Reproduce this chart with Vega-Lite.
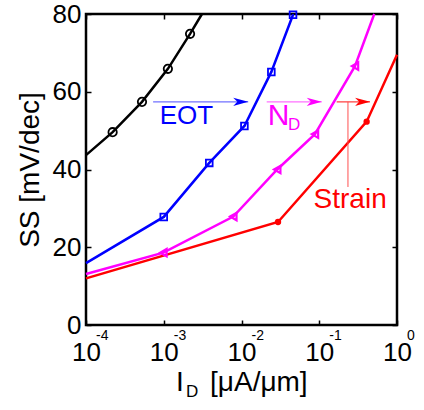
{
  "$schema": "https://vega.github.io/schema/vega-lite/v6.json",
  "width": 311,
  "height": 311,
  "autosize": {"type": "none"},
  "padding": {"left": 86, "top": 14, "right": 27, "bottom": 85},
  "background": "white",
  "config": {
    "font": "Liberation Sans",
    "view": {"stroke": "black", "strokeWidth": 2.5},
    "axis": {
      "domain": false,
      "grid": false,
      "tickColor": "black",
      "tickWidth": 1.5,
      "tickSize": -5,
      "labelColor": "black",
      "titleColor": "black",
      "labelFont": "Liberation Sans",
      "titleFont": "Liberation Sans",
      "titleFontWeight": "normal",
      "labelFontSize": 26,
      "titleFontSize": 28,
      "labelFlush": false
    }
  },
  "datasets": {
    "curves": [
      {"series": "base", "x": 0.0001, "y": 43.7},
      {"series": "base", "x": 0.00022, "y": 49.6},
      {"series": "base", "x": 0.000525, "y": 57.4},
      {"series": "base", "x": 0.00113, "y": 65.9},
      {"series": "base", "x": 0.00218, "y": 74.9},
      {"series": "base", "x": 0.0031, "y": 80},
      {"series": "EOT", "x": 0.0001, "y": 15.9},
      {"series": "EOT", "x": 0.001, "y": 27.8},
      {"series": "EOT", "x": 0.00385, "y": 41.7},
      {"series": "EOT", "x": 0.0109, "y": 51.2},
      {"series": "EOT", "x": 0.0242, "y": 65.1},
      {"series": "EOT", "x": 0.046, "y": 79.8},
      {"series": "ND", "x": 0.0001, "y": 13.1},
      {"series": "ND", "x": 0.00099, "y": 18.6},
      {"series": "ND", "x": 0.00785, "y": 27.9},
      {"series": "ND", "x": 0.0288, "y": 40.0},
      {"series": "ND", "x": 0.088, "y": 49.1},
      {"series": "ND", "x": 0.288, "y": 66.6},
      {"series": "ND", "x": 0.51, "y": 80},
      {"series": "Strain", "x": 0.0001, "y": 12.0},
      {"series": "Strain", "x": 0.0295, "y": 26.5},
      {"series": "Strain", "x": 0.407, "y": 52.3},
      {"series": "Strain", "x": 1, "y": 69.5}
    ],
    "markers": [
      {"series": "base", "x": 0.00022, "y": 49.6},
      {"series": "base", "x": 0.000525, "y": 57.4},
      {"series": "base", "x": 0.00113, "y": 65.9},
      {"series": "base", "x": 0.00218, "y": 74.9},
      {"series": "EOT", "x": 0.001, "y": 27.8},
      {"series": "EOT", "x": 0.00385, "y": 41.7},
      {"series": "EOT", "x": 0.0109, "y": 51.2},
      {"series": "EOT", "x": 0.0242, "y": 65.1},
      {"series": "EOT", "x": 0.046, "y": 79.8},
      {"series": "ND", "x": 0.00099, "y": 18.6},
      {"series": "ND", "x": 0.00785, "y": 27.9},
      {"series": "ND", "x": 0.0288, "y": 40.0},
      {"series": "ND", "x": 0.088, "y": 49.1},
      {"series": "ND", "x": 0.288, "y": 66.6},
      {"series": "Strain", "x": 0.0295, "y": 26.5},
      {"series": "Strain", "x": 0.407, "y": 52.3}
    ],
    "arrows": [
      {"name": "EOT", "x": 0.00073, "x2": 0.0122, "y": 57.4},
      {"name": "ND", "x": 0.0211, "x2": 0.1076, "y": 57.4},
      {"name": "Strain", "x": 0.1675, "x2": 0.45, "y": 57.4}
    ],
    "exponents": [
      {"x": 0.0001, "t": "-4"},
      {"x": 0.001, "t": "-3"},
      {"x": 0.01, "t": "-2"},
      {"x": 0.1, "t": "-1"},
      {"x": 1, "t": "0"}
    ],
    "xtitle": [
      {"x": 0.00144, "y": -17.0, "t": "I"},
      {"x": 0.00394, "y": -17.0, "t": "[\u03bcA/\u03bcm]"}
    ]
  },
  "layer": [
    {
      "mark": {"type": "rule", "color": "black", "strokeWidth": 1, "strokeDash": [1, 1.5]},
      "encoding": {
        "y": {"datum": 60, "type": "quantitative", "scale": {"domain": [0, 80]}, "axis": null}
      }
    },
    {
      "data": {"name": "curves"},
      "mark": {"type": "line", "strokeWidth": 2.5},
      "encoding": {
        "x": {
          "field": "x", "type": "quantitative",
          "scale": {"type": "log", "domain": [0.0001, 1]},
          "axis": {
            "values": [0.0001, 0.001, 0.01, 0.1, 1],
            "labelExpr": "'10'",
            "labelDx": -5,
            "labelPadding": 19,
            "title": null
          }
        },
        "y": {
          "field": "y", "type": "quantitative",
          "scale": {"domain": [0, 80]},
          "axis": {
            "values": [0, 20, 40, 60, 80],
            "labelPadding": 10,
            "title": "SS [mV/dec]",
            "titlePadding": 8
          }
        },
        "color": {
          "field": "series", "type": "nominal",
          "scale": {"domain": ["base", "EOT", "ND", "Strain"], "range": ["#000000", "#0000ff", "#ff00ff", "#ff0000"]},
          "legend": null
        },
        "detail": {"field": "series"}
      }
    },
    {
      "data": {"name": "markers"},
      "transform": [{"filter": "datum.series == 'base'"}],
      "mark": {"type": "point", "shape": "circle", "filled": false, "size": 70, "strokeWidth": 1.8, "color": "black", "opacity": 1},
      "encoding": {
        "x": {"field": "x", "type": "quantitative", "scale": {"type": "log", "domain": [0.0001, 1]}, "axis": null},
        "y": {"field": "y", "type": "quantitative", "scale": {"domain": [0, 80]}, "axis": null}
      }
    },
    {
      "data": {"name": "markers"},
      "transform": [{"filter": "datum.series == 'EOT'"}],
      "mark": {"type": "point", "shape": "square", "filled": false, "size": 45, "strokeWidth": 1.8, "color": "#0000ff", "opacity": 1},
      "encoding": {
        "x": {"field": "x", "type": "quantitative", "scale": {"type": "log", "domain": [0.0001, 1]}, "axis": null},
        "y": {"field": "y", "type": "quantitative", "scale": {"domain": [0, 80]}, "axis": null}
      }
    },
    {
      "data": {"name": "markers"},
      "transform": [{"filter": "datum.series == 'EOT'"}],
      "mark": {"type": "point", "shape": "circle", "filled": true, "size": 4, "color": "#0000ff", "opacity": 1},
      "encoding": {
        "x": {"field": "x", "type": "quantitative", "scale": {"type": "log", "domain": [0.0001, 1]}, "axis": null},
        "y": {"field": "y", "type": "quantitative", "scale": {"domain": [0, 80]}, "axis": null}
      }
    },
    {
      "data": {"name": "markers"},
      "transform": [{"filter": "datum.series == 'ND'"}],
      "mark": {"type": "point", "shape": "triangle-left", "filled": false, "size": 55, "strokeWidth": 2.2, "color": "#ff00ff", "opacity": 1},
      "encoding": {
        "x": {"field": "x", "type": "quantitative", "scale": {"type": "log", "domain": [0.0001, 1]}, "axis": null},
        "y": {"field": "y", "type": "quantitative", "scale": {"domain": [0, 80]}, "axis": null}
      }
    },
    {
      "data": {"name": "markers"},
      "transform": [{"filter": "datum.series == 'Strain'"}],
      "mark": {"type": "point", "shape": "circle", "filled": true, "size": 40, "color": "#ff0000", "opacity": 1},
      "encoding": {
        "x": {
          "field": "x", "type": "quantitative", "scale": {"type": "log", "domain": [0.0001, 1]},
          "axis": {"orient": "top", "values": [0.0001, 0.001, 0.01, 0.1, 1], "labels": false, "title": null}
        },
        "y": {
          "field": "y", "type": "quantitative", "scale": {"domain": [0, 80]},
          "axis": {"orient": "right", "values": [0, 20, 40, 60, 80], "labels": false, "title": null}
        }
      }
    },
    {
      "data": {"name": "arrows"},
      "transform": [{"filter": "datum.name == 'EOT'"}],
      "mark": {"type": "rule", "color": "#7070ff", "strokeWidth": 1.3},
      "encoding": {
        "x": {"field": "x", "type": "quantitative", "scale": {"type": "log", "domain": [0.0001, 1]}, "axis": null},
        "x2": {"field": "x2"},
        "y": {"field": "y", "type": "quantitative", "scale": {"domain": [0, 80]}, "axis": null}
      }
    },
    {
      "data": {"name": "arrows"},
      "transform": [{"filter": "datum.name == 'ND'"}],
      "mark": {"type": "rule", "color": "#ff70ff", "strokeWidth": 1.3},
      "encoding": {
        "x": {"field": "x", "type": "quantitative", "scale": {"type": "log", "domain": [0.0001, 1]}, "axis": null},
        "x2": {"field": "x2"},
        "y": {"field": "y", "type": "quantitative", "scale": {"domain": [0, 80]}, "axis": null}
      }
    },
    {
      "data": {"name": "arrows"},
      "transform": [{"filter": "datum.name == 'Strain'"}],
      "mark": {"type": "rule", "color": "#ff4040", "strokeWidth": 1.1},
      "encoding": {
        "x": {"field": "x", "type": "quantitative", "scale": {"type": "log", "domain": [0.0001, 1]}, "axis": null},
        "x2": {"field": "x2"},
        "y": {"field": "y", "type": "quantitative", "scale": {"domain": [0, 80]}, "axis": null}
      }
    },
    {
      "data": {"values": [{"x": 0.234, "y": 57.4, "y2": 35.5}]},
      "mark": {"type": "rule", "color": "#ff5050", "strokeWidth": 1},
      "encoding": {
        "x": {"field": "x", "type": "quantitative", "scale": {"type": "log", "domain": [0.0001, 1]}, "axis": null},
        "y": {"field": "y", "type": "quantitative", "scale": {"domain": [0, 80]}, "axis": null},
        "y2": {"field": "y2"}
      }
    },
    {
      "data": {"name": "arrows"},
      "mark": {"type": "point", "shape": "M0,0 L-2,-0.55 L-1.45,0 L-2,0.55 Z", "filled": true, "size": 225, "opacity": 1, "strokeWidth": 0},
      "encoding": {
        "x": {"field": "x2", "type": "quantitative", "scale": {"type": "log", "domain": [0.0001, 1]}, "axis": null},
        "y": {"field": "y", "type": "quantitative", "scale": {"domain": [0, 80]}, "axis": null},
        "color": {
          "field": "name", "type": "nominal",
          "scale": {"domain": ["EOT", "ND", "Strain"], "range": ["#0000ff", "#ff00ff", "#ff0000"]},
          "legend": null
        }
      }
    },
    {
      "data": {"values": [{"x": 0.000887, "y": 51.6, "t": "EOT"}]},
      "mark": {"type": "text", "color": "#0000ff", "fontSize": 26, "align": "left", "baseline": "alphabetic"},
      "encoding": {
        "x": {"field": "x", "type": "quantitative", "scale": {"type": "log", "domain": [0.0001, 1]}, "axis": null},
        "y": {"field": "y", "type": "quantitative", "scale": {"domain": [0, 80]}, "axis": null},
        "text": {"field": "t"}
      }
    },
    {
      "data": {"values": [{"x": 0.0217, "y": 51.4, "t": "N"}]},
      "mark": {"type": "text", "color": "#ff00ff", "fontSize": 30, "align": "left", "baseline": "alphabetic"},
      "encoding": {
        "x": {"field": "x", "type": "quantitative", "scale": {"type": "log", "domain": [0.0001, 1]}, "axis": null},
        "y": {"field": "y", "type": "quantitative", "scale": {"domain": [0, 80]}, "axis": null},
        "text": {"field": "t"}
      }
    },
    {
      "data": {"values": [{"x": 0.0395, "y": 50.2, "t": "D"}]},
      "mark": {"type": "text", "color": "#ff00ff", "fontSize": 17, "align": "left", "baseline": "alphabetic"},
      "encoding": {
        "x": {"field": "x", "type": "quantitative", "scale": {"type": "log", "domain": [0.0001, 1]}, "axis": null},
        "y": {"field": "y", "type": "quantitative", "scale": {"domain": [0, 80]}, "axis": null},
        "text": {"field": "t"}
      }
    },
    {
      "data": {"values": [{"x": 0.0845, "y": 30.1, "t": "Strain"}]},
      "mark": {"type": "text", "color": "#ff0000", "fontSize": 28, "align": "left", "baseline": "alphabetic"},
      "encoding": {
        "x": {"field": "x", "type": "quantitative", "scale": {"type": "log", "domain": [0.0001, 1]}, "axis": null},
        "y": {"field": "y", "type": "quantitative", "scale": {"domain": [0, 80]}, "axis": null},
        "text": {"field": "t"}
      }
    },
    {
      "data": {"name": "exponents"},
      "mark": {"type": "text", "color": "black", "fontSize": 14, "align": "left", "baseline": "alphabetic", "dx": 10, "dy": 15},
      "encoding": {
        "x": {"field": "x", "type": "quantitative", "scale": {"type": "log", "domain": [0.0001, 1]}, "axis": null},
        "y": {"datum": 0, "type": "quantitative", "scale": {"domain": [0, 80]}, "axis": null},
        "text": {"field": "t"}
      }
    },
    {
      "data": {"name": "xtitle"},
      "mark": {"type": "text", "color": "black", "fontSize": 28, "align": "left", "baseline": "alphabetic"},
      "encoding": {
        "x": {"field": "x", "type": "quantitative", "scale": {"type": "log", "domain": [0.0001, 1]}, "axis": null},
        "y": {"field": "y", "type": "quantitative", "scale": {"domain": [0, 80]}, "axis": null},
        "text": {"field": "t"}
      }
    },
    {
      "data": {"values": [{"x": 0.00193, "y": -18.5, "t": "D"}]},
      "mark": {"type": "text", "color": "black", "fontSize": 17, "align": "left", "baseline": "alphabetic"},
      "encoding": {
        "x": {"field": "x", "type": "quantitative", "scale": {"type": "log", "domain": [0.0001, 1]}, "axis": null},
        "y": {"field": "y", "type": "quantitative", "scale": {"domain": [0, 80]}, "axis": null},
        "text": {"field": "t"}
      }
    }
  ],
  "resolve": {"axis": {"x": "independent", "y": "independent"}}
}
